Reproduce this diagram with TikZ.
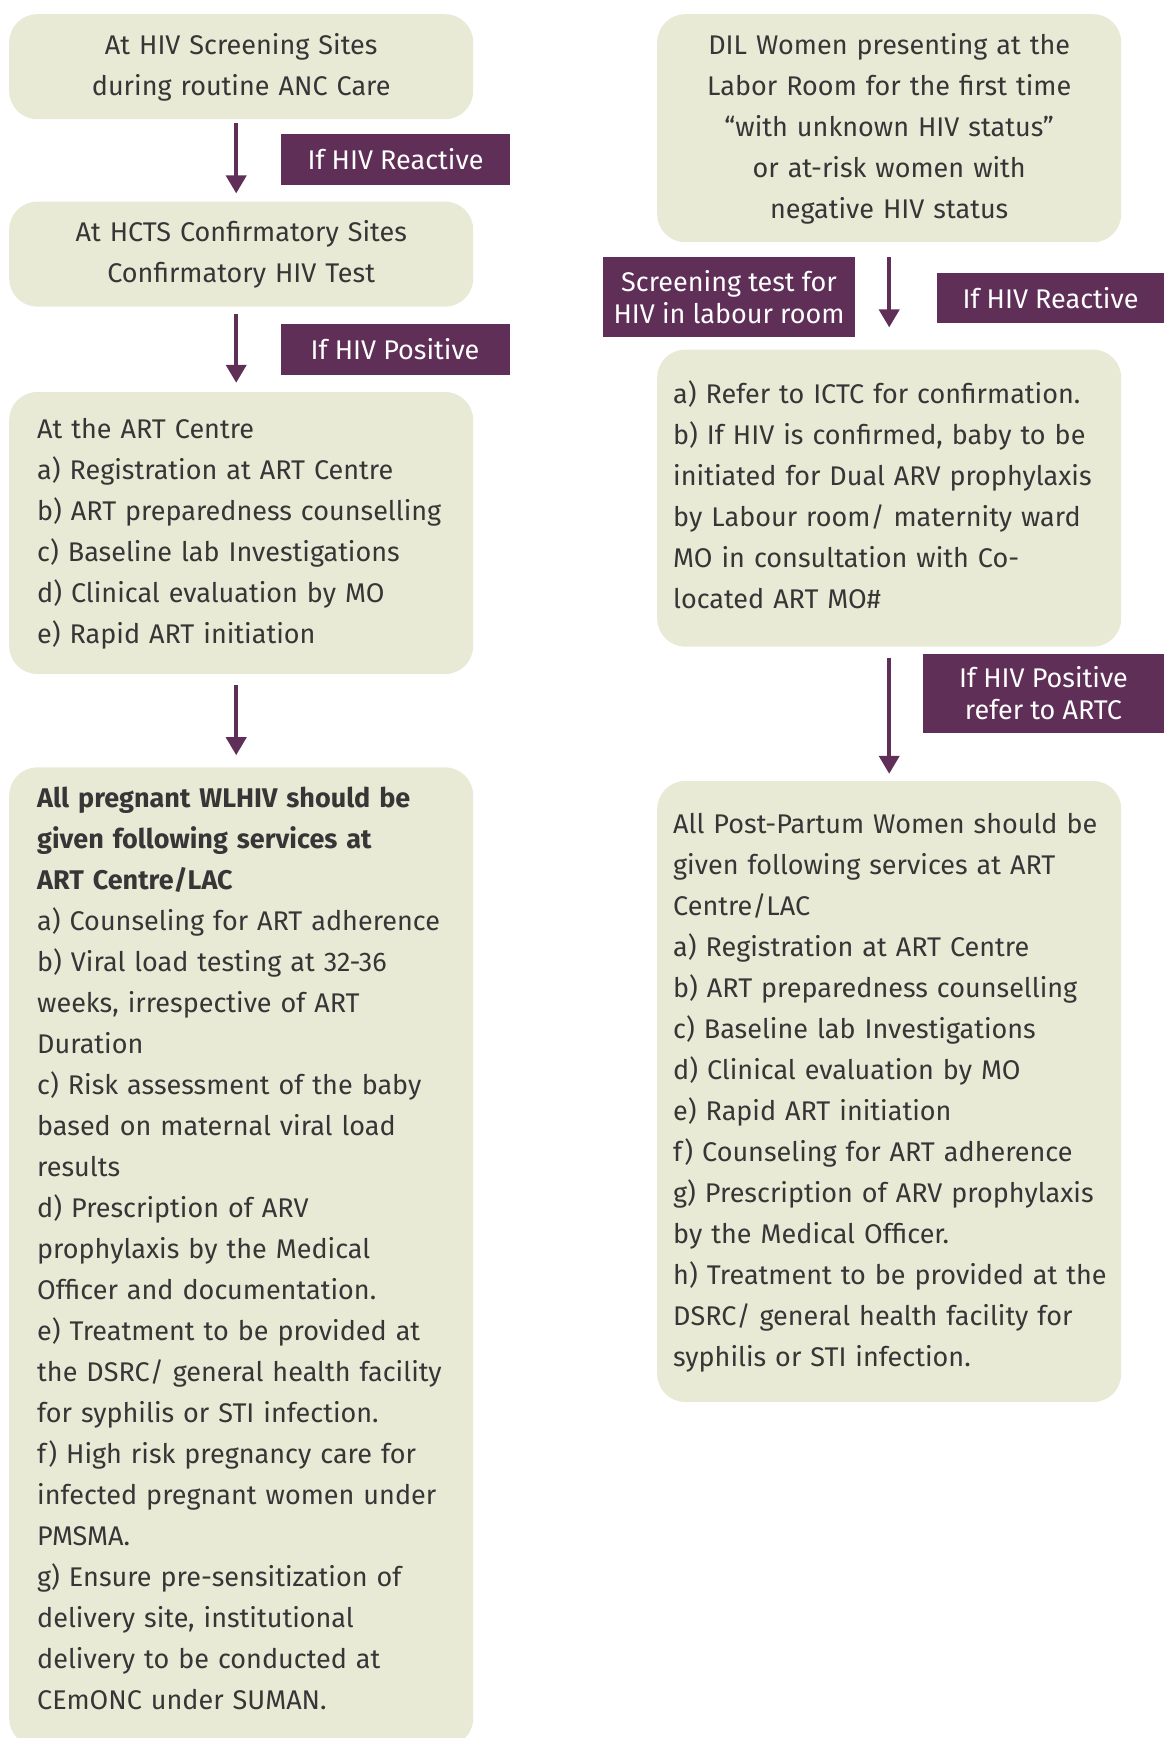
\documentclass[tikz,border=0pt]{standalone}
\usepackage{fontspec}
\setmainfont{Fira Sans}
\usepackage{xcolor}
\usetikzlibrary{arrows.meta,positioning}
\definecolor{sage}{HTML}{E8EAD6}
\definecolor{plum}{HTML}{5F2F58}
\definecolor{ink}{HTML}{363636}
\newcommand{\boxfont}{\fontsize{27}{41}\selectfont}
\newcommand{\lblfont}{\fontsize{27}{32}\selectfont}
\tikzset{
  box/.style={fill=sage,rounded corners=28pt,text width=408pt,inner xsep=28pt,inner ysep=0pt,align=left,font=\boxfont,text=ink,execute at begin node=\strut,execute at end node=\strut},
  boxc/.style={box,align=center},
  boxr/.style={box,text width=432pt,inner xsep=16pt},
  boxrc/.style={boxr,align=center},
  lbl/.style={fill=plum,text=white,align=center,inner sep=0pt,font=\lblfont},
  arr/.style={-{Triangle[width=20pt,length=18pt]},line width=4pt,color=plum},
}
\begin{document}
\begin{tikzpicture}[x=1pt,y=-1pt]
\useasboundingbox (0,0) rectangle (1164,1738);
% left column
\node[boxc,minimum height=105pt,anchor=north west] (a1) at (9,14) {At HIV Screening Sites\\during routine ANC Care};
\node[boxc,minimum height=105pt,below=82pt of a1] (a2) {At HCTS Confirmatory Sites\\Confirmatory HIV Test};
\node[box,minimum height=282pt,below=85pt of a2] (a3) {At the ART Centre\\a) Registration at ART Centre\\b) ART preparedness counselling\\c) Baseline lab Investigations\\d) Clinical evaluation by MO\\e) Rapid ART initiation};
\node[box,minimum height=979pt,text depth=928pt,below=93pt of a3] (a4) {\textbf{All pregnant WLHIV should be}\\\textbf{given following services at}\\\textbf{ART Centre/LAC}\\a) Counseling for ART adherence\\b) Viral load testing at 32-36\\weeks, irrespective of ART\\Duration\\c) Risk assessment of the baby\\based on maternal viral load\\results\\d) Prescription of ARV\\prophylaxis by the Medical\\Officer and documentation.\\e) Treatment to be provided at\\the DSRC/ general health facility\\for syphilis or STI infection.\\f) High risk pregnancy care for\\infected pregnant women under\\PMSMA.\\g) Ensure pre-sensitization of\\delivery site, institutional\\delivery to be conducted at\\CEmONC under SUMAN.};
\node[lbl,minimum width=229pt,minimum height=51pt] (la1) at (395.5,159.5) {If HIV Reactive};
\node[lbl,minimum width=229pt,minimum height=51pt] (la2) at (395,349) {If HIV Positive};
\draw[arr,shorten <=4pt,shorten >=8pt] ([xshift=-5pt]a1.south) -- ([xshift=-5pt]a2.north);
\draw[arr,shorten <=7pt,shorten >=9pt] ([xshift=-5pt]a2.south) -- ([xshift=-5pt]a3.north);
\draw[arr,shorten <=11pt,shorten >=12pt] ([xshift=-5pt]a3.south) -- ([xshift=-5pt]a4.north);
% right column
\node[boxrc,minimum height=228pt,anchor=north west] (b1) at (657,14) {DIL Women presenting at the\\Labor Room for the first time\\“with unknown HIV status”\\or at-risk women with\\negative HIV status};
\node[boxr,minimum height=297pt,below=107pt of b1] (b2) {a) Refer to ICTC for confirmation.\\b) If HIV is confirmed, baby to be\\initiated for Dual ARV prophylaxis\\by Labour room/ maternity ward\\MO in consultation with Co-\\located ART MO\#};
\node[boxr,minimum height=621pt,below=134pt of b2] (b3) {All Post-Partum Women should be\\given following services at ART\\Centre/LAC\\a) Registration at ART Centre\\b) ART preparedness counselling\\c) Baseline lab Investigations\\d) Clinical evaluation by MO\\e) Rapid ART initiation\\f) Counseling for ART adherence\\g) Prescription of ARV prophylaxis\\by the Medical Officer.\\\mbox{h) Treatment to be provided at the}\\DSRC/ general health facility for\\syphilis or STI infection.};
\node[lbl,minimum width=252pt,minimum height=80pt] (lb1) at (729,297) {Screening test for\\HIV in labour room};
\node[lbl,minimum width=227pt,minimum height=50pt] (lb2) at (1050.5,298) {If HIV Reactive};
\node[lbl,minimum width=241pt,minimum height=79pt] (lb3) at (1043.5,693.5) {If HIV Positive\\refer to ARTC};
\draw[arr,shorten <=15pt,shorten >=22pt] (b1) -- (b2);
\draw[arr,shorten <=11pt,shorten >=7pt] (b2) -- (b3);
\end{tikzpicture}
\end{document}
